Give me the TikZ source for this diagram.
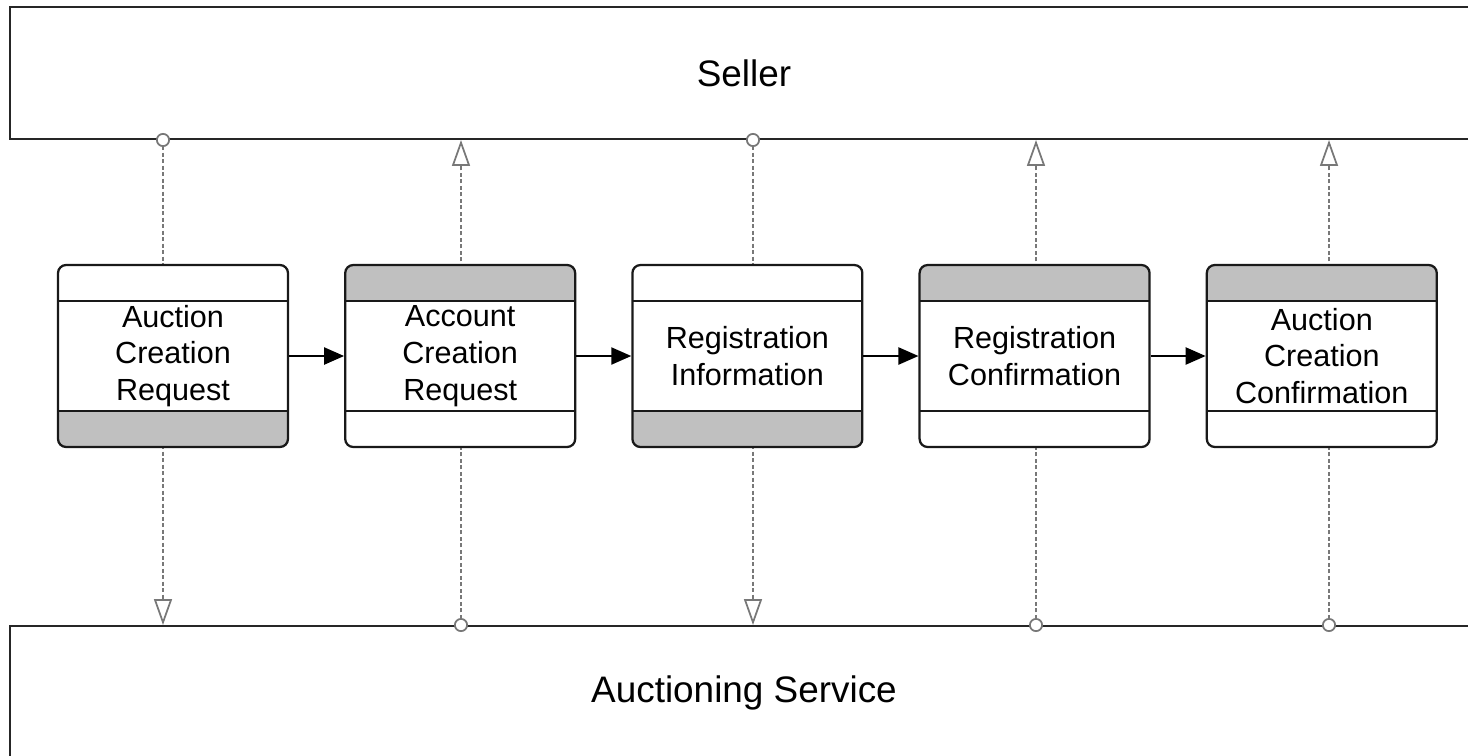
\documentclass[tikz,border=0pt]{standalone}
\usepackage{fontspec}
\setmainfont{Liberation Sans}
\usetikzlibrary{arrows.meta,positioning}
\definecolor{bandgray}{RGB}{192,192,192}
\definecolor{linkgray}{RGB}{120,120,120}

\begin{document}
\begin{tikzpicture}[
	x=0.02cm, y=-0.02cm,
	node distance=1.1cm,
	lane/.style={rectangle, draw=black!85, line width=0.04cm, minimum width=29.36cm, inner sep=0pt, font=\fontsize{21}{25}\selectfont},
	msgbox/.style={rectangle, rounded corners=0.16cm, draw=black!90, fill=white, line width=0.045cm, minimum width=4.6cm, minimum height=3.64cm, inner sep=0pt, align=center, font=\fontsize{17.4}{21}\selectfont},
	headgray/.style={msgbox, path picture={
		\fill[bandgray, sharp corners] (path picture bounding box.north west) rectangle ([yshift=-0.72cm]path picture bounding box.north east);
		\draw[line width=0.04cm, sharp corners] ([yshift=-0.72cm]path picture bounding box.north west) -- ([yshift=-0.72cm]path picture bounding box.north east);
		\draw[line width=0.04cm, sharp corners] ([yshift=0.72cm]path picture bounding box.south west) -- ([yshift=0.72cm]path picture bounding box.south east);}},
	footgray/.style={msgbox, path picture={
		\fill[bandgray, sharp corners] (path picture bounding box.south west) rectangle ([yshift=0.72cm]path picture bounding box.south east);
		\draw[line width=0.04cm, sharp corners] ([yshift=-0.72cm]path picture bounding box.north west) -- ([yshift=-0.72cm]path picture bounding box.north east);
		\draw[line width=0.04cm, sharp corners] ([yshift=0.72cm]path picture bounding box.south west) -- ([yshift=0.72cm]path picture bounding box.south east);}},
	flow/.style={-{Triangle[length=0.4cm, width=0.34cm]}, line width=0.045cm},
	msg/.style={linkgray, line width=0.035cm, dash pattern=on 0.08cm off 0.05cm,
		{Circle[fill=white, length=0.28cm, line width=0.035cm]}-{Triangle[fill=white, length=0.52cm, width=0.36cm, line width=0.035cm]},
		shorten <=-0.14cm}
]
\clip (0,0) rectangle (1468,755);

% --- Lanes ---
\node[lane, minimum height=2.64cm] (seller) at (744,73) {Seller};
\node[lane, minimum height=2.68cm] (service) at (744,693) {Auctioning Service};

% --- Message links ---
\foreach \n/\x in {1/163, 2/461, 3/753, 4/1036, 5/1329}
  \coordinate (k\n) at (\x,0);

\draw[msg] (k1 |- seller.south) -- (k1 |- service.north);
\draw[msg] (k2 |- service.north) -- (k2 |- seller.south);
\draw[msg] (k3 |- seller.south) -- (k3 |- service.north);
\draw[msg] (k4 |- service.north) -- (k4 |- seller.south);
\draw[msg] (k5 |- service.north) -- (k5 |- seller.south);

% --- Messages ---
\node[footgray] (acreq) at (173,356) {Auction\\Creation\\Request};
\node[headgray, right=of acreq] (accreq) {Account\\Creation\\Request};
\node[footgray, right=of accreq] (reginfo) {Registration\\Information};
\node[headgray, right=of reginfo] (regconf) {Registration\\Confirmation};
\node[headgray, right=of regconf] (acconf) {Auction\\Creation\\Confirmation};

\foreach \a/\b in {acreq/accreq, accreq/reginfo, reginfo/regconf, regconf/acconf}
  \draw[flow] (\a) -- (\b);

\end{tikzpicture}
\end{document}
